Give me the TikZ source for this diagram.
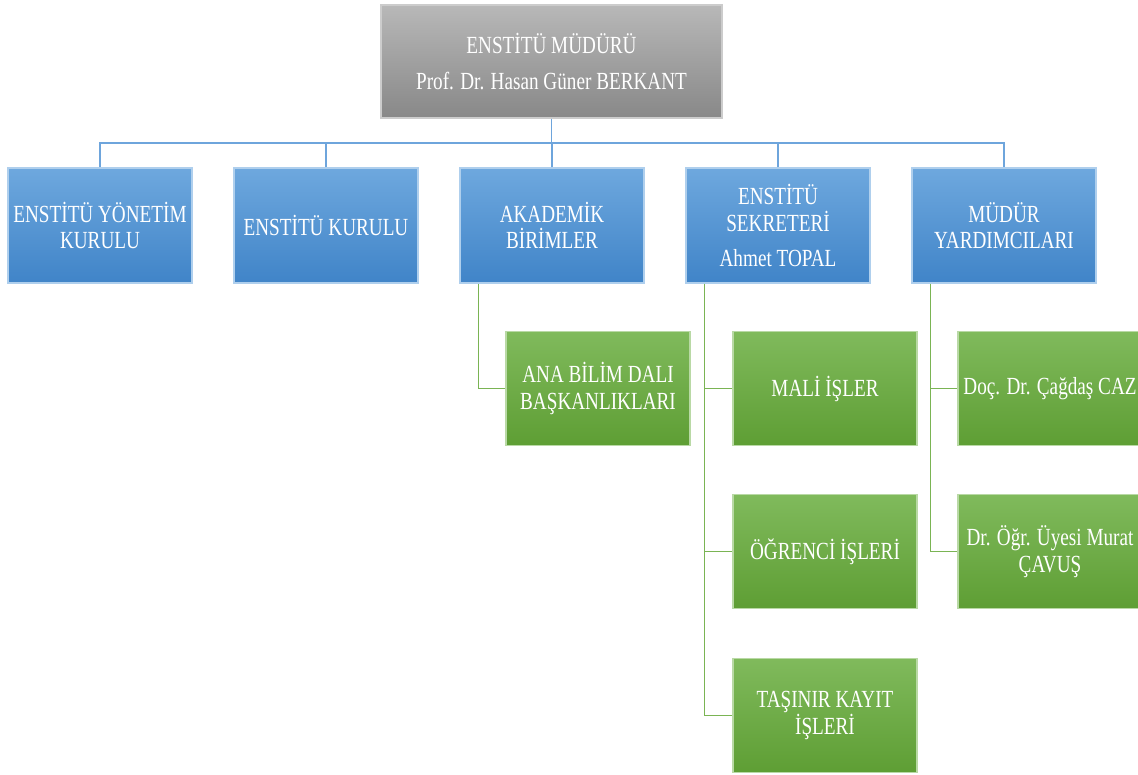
\documentclass[tikz,border=0pt]{standalone}
\usepackage{fontspec}
\setmainfont[FakeStretch=0.78]{Liberation Serif}
\usetikzlibrary{positioning,calc}

\definecolor{grayTop}{RGB}{184,184,184}
\definecolor{grayBot}{RGB}{136,136,136}
\definecolor{blueTop}{RGB}{110,168,222}
\definecolor{blueBot}{RGB}{64,132,200}
\definecolor{greenTop}{RGB}{128,186,92}
\definecolor{greenBot}{RGB}{94,158,52}
\definecolor{blueLine}{RGB}{110,165,220}
\definecolor{greenLine}{RGB}{122,180,84}

\tikzset{
  unitbox/.style={rectangle, align=center, text=white, font=\fontsize{14}{15}\selectfont,
    minimum width=3.68cm, minimum height=2.28cm, inner sep=2pt, line width=0.9pt},
  headbox/.style={unitbox, top color=grayTop, bottom color=grayBot, draw=gray!40,
    minimum width=6.82cm, minimum height=2.26cm},
  bluebox/.style={unitbox, top color=blueTop, bottom color=blueBot, draw=blueTop!55!white,
    minimum height=2.30cm},
  greenbox/.style={unitbox, top color=greenTop, bottom color=greenBot, draw=greenTop!55!white},
  bline/.style={draw=blueLine, line width=0.8pt},
  gline/.style={draw=greenLine, line width=0.8pt}
}

\begin{document}
\begin{tikzpicture}
  \useasboundingbox (0,0) rectangle (22.76,-15.48);
  \clip (0,0) rectangle (22.76,-15.48);

  % Director
  \node[headbox] (head) at (11.03,-1.23) {ENSTİTÜ MÜDÜRÜ\\[5pt]Prof. Dr. Hasan Güner BERKANT};

  % Units
  \node[bluebox] (b1) at (2.00,-4.51) {ENSTİTÜ YÖNETİM\\KURULU};
  \node[bluebox] (b2) at (6.52,-4.51) {ENSTİTÜ KURULU};
  \node[bluebox] (b3) at (11.04,-4.51) {AKADEMİK\\BİRİMLER};
  \node[bluebox] (b4) at (15.56,-4.51) {ENSTİTÜ\\SEKRETERİ\\[5pt]Ahmet TOPAL};
  \node[bluebox] (b5) at (20.08,-4.51) {MÜDÜR\\YARDIMCILARI};

  \coordinate (bus) at (11.03,-2.86);
  \draw[bline] (head.south) -- (bus);
  \draw[bline] (b1.north) |- (bus) -| (b5.north);
  \foreach \b in {b2,b3,b4}
    \draw[bline] (\b.north) -- (\b.north |- bus);

  % Sub-units
  \node[greenbox] (g1) at (11.96,-7.77) {ANA BİLİM DALI\\BAŞKANLIKLARI};
  \node[greenbox] (g2) at (16.50,-7.77) {MALİ İŞLER};
  \node[greenbox] (g3) at (16.50,-11.03) {ÖĞRENCİ İŞLERİ};
  \node[greenbox] (g4) at (16.50,-14.31) {TAŞINIR KAYIT\\İŞLERİ};
  \node[greenbox] (g5) at (21.00,-7.77) {Doç. Dr. Çağdaş CAZ};
  \node[greenbox] (g6) at (21.00,-11.03) {Dr. Öğr. Üyesi Murat\\ÇAVUŞ};

  \coordinate (s3) at ($(b3.south west)!0.103!(b3.south east)$);
  \coordinate (s4) at ($(b4.south west)!0.103!(b4.south east)$);
  \coordinate (s5) at ($(b5.south west)!0.103!(b5.south east)$);
  \draw[gline] (s3) |- (g1.west);
  \foreach \g in {g2,g3,g4}
    \draw[gline] (s4) |- (\g.west);
  \foreach \g in {g5,g6}
    \draw[gline] (s5) |- (\g.west);
\end{tikzpicture}
\end{document}
